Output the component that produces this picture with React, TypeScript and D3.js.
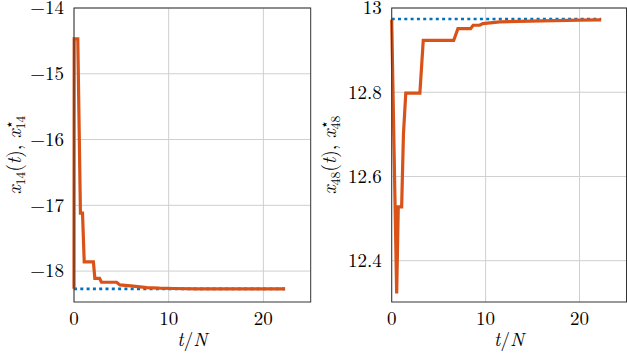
import React from 'react'
import * as d3 from 'd3'

// x_14(t) trajectory (t/N, value)
const leftT = [0, 0.02, 0.4, 0.68, 0.9, 1.08, 2.05, 2.2, 2.7, 2.9, 4.5, 4.85, 6, 7.7, 9, 10.5, 13, 22.3]
const leftV = [-18.27, -14.47, -14.47, -17.12, -17.12, -17.86, -17.86, -18.11, -18.11, -18.17, -18.17, -18.21, -18.225, -18.25, -18.26, -18.265, -18.27, -18.27]
const leftOpt = -18.27

// x_48(t) trajectory
const rightT = [0, 0.53, 0.7, 1.06, 1.25, 1.5, 3.0, 3.36, 6.6, 7.05, 8.4, 8.67, 9.37, 9.7, 11.5, 14.7, 20, 22.3]
const rightV = [12.972, 12.322, 12.528, 12.528, 12.7, 12.798, 12.798, 12.923, 12.923, 12.951, 12.951, 12.959, 12.959, 12.963, 12.967, 12.969, 12.971, 12.972]
const rightOpt = 12.974

const xTicks = [0, 10, 20]
const leftYTicks = [-14, -15, -16, -17, -18]
const rightYTicks = [12.4, 12.6, 12.8, 13]

const FONT = { fontFamily: '"Latin Modern Roman", "CMU Serif", serif' }
const ORANGE = '#d95319'
const BLUE = '#0072bd'

type PanelProps = {
  x0: number
  x1: number
  ts: number[]
  vs: number[]
  opt: number
  yDomain: [number, number]
  yTicks: number[]
  yFmt: (v: number) => string
  labelX: number
  sub: string
}

function Panel({ x0, x1, ts, vs, opt, yDomain, yTicks, yFmt, labelX, sub }: PanelProps) {
  const top = 8
  const bottom = 302
  const x = d3.scaleLinear().domain([0, 25]).range([x0, x1])
  const y = d3.scaleLinear().domain(yDomain).range([bottom, top])

  const pts: [number, number][] = ts.map((t, i) => [t, vs[i]])
  const line = d3.line<[number, number]>()
    .x(d => x(d[0]))
    .y(d => y(d[1]))

  const tEnd = ts[ts.length - 1]
  const cy = (top + bottom) / 2

  return (
    <g>
      {/* grid */}
      {xTicks.map(t => (
        <line key={'gx' + t} x1={x(t)} x2={x(t)} y1={top} y2={bottom} stroke="#cfcfcf" strokeWidth={1} />
      ))}
      {yTicks.map(v => (
        <line key={'gy' + v} x1={x0} x2={x1} y1={y(v)} y2={y(v)} stroke="#cfcfcf" strokeWidth={1} />
      ))}

      {/* optimum */}
      <line x1={x(0)} x2={x(tEnd)} y1={y(opt)} y2={y(opt)}
        stroke={BLUE} strokeWidth={2.6} strokeDasharray="3,3.3" />

      {/* trajectory */}
      <path d={line(pts) || ''} fill="none" stroke={ORANGE} strokeWidth={3.2} strokeLinejoin="miter" />

      {/* frame */}
      <rect x={x0} y={top} width={x1 - x0} height={bottom - top} fill="none" stroke="#333" strokeWidth={1} />

      {/* tick labels */}
      {xTicks.map(t => (
        <text key={'tx' + t} x={x(t)} y={325} textAnchor="middle" fontSize={19} style={FONT}>{t}</text>
      ))}
      {yTicks.map(v => (
        <text key={'ty' + v} x={x0 - 10} y={y(v)} dy="0.33em" textAnchor="end" fontSize={19} style={FONT}>{yFmt(v)}</text>
      ))}

      {/* x label */}
      <text x={(x0 + x1) / 2} y={346} textAnchor="middle" fontSize={19} style={FONT}>
        <tspan fontStyle="italic">t</tspan>
        <tspan>/</tspan>
        <tspan fontStyle="italic">N</tspan>
      </text>

      {/* y label */}
      <text transform={`translate(${labelX},${cy}) rotate(-90)`} textAnchor="middle" fontSize={19.5} style={FONT}>
        <tspan fontStyle="italic">x</tspan>
        <tspan fontSize={13.5} dy={4}>{sub}</tspan>
        <tspan dy={-4}>(</tspan>
        <tspan fontStyle="italic">t</tspan>
        <tspan>), </tspan>
        <tspan fontStyle="italic">x</tspan>
        <tspan fontSize={13.5} dy={4}>{sub}</tspan>
        <tspan fontSize={14} dx={-13.5} dy={-11}>⋆</tspan>
      </text>
    </g>
  )
}

export default function App() {
  const minus = (v: number) => (v < 0 ? '\u2212' + Math.abs(v) : String(v))
  return (
    <svg width={627} height={354} style={{ position: 'absolute', left: 0, top: 0, display: 'block', background: '#fff' }}>
      <Panel x0={74} x1={310.7} ts={leftT} vs={leftV} opt={leftOpt}
        yDomain={[-18.47, -14]} yTicks={leftYTicks} yFmt={minus} labelX={21} sub="14" />
      <Panel x0={391.7} x1={626.5} ts={rightT} vs={rightV} opt={rightOpt}
        yDomain={[12.302, 13]} yTicks={rightYTicks} yFmt={v => String(v)} labelX={336} sub="48" />
    </svg>
  )
}
